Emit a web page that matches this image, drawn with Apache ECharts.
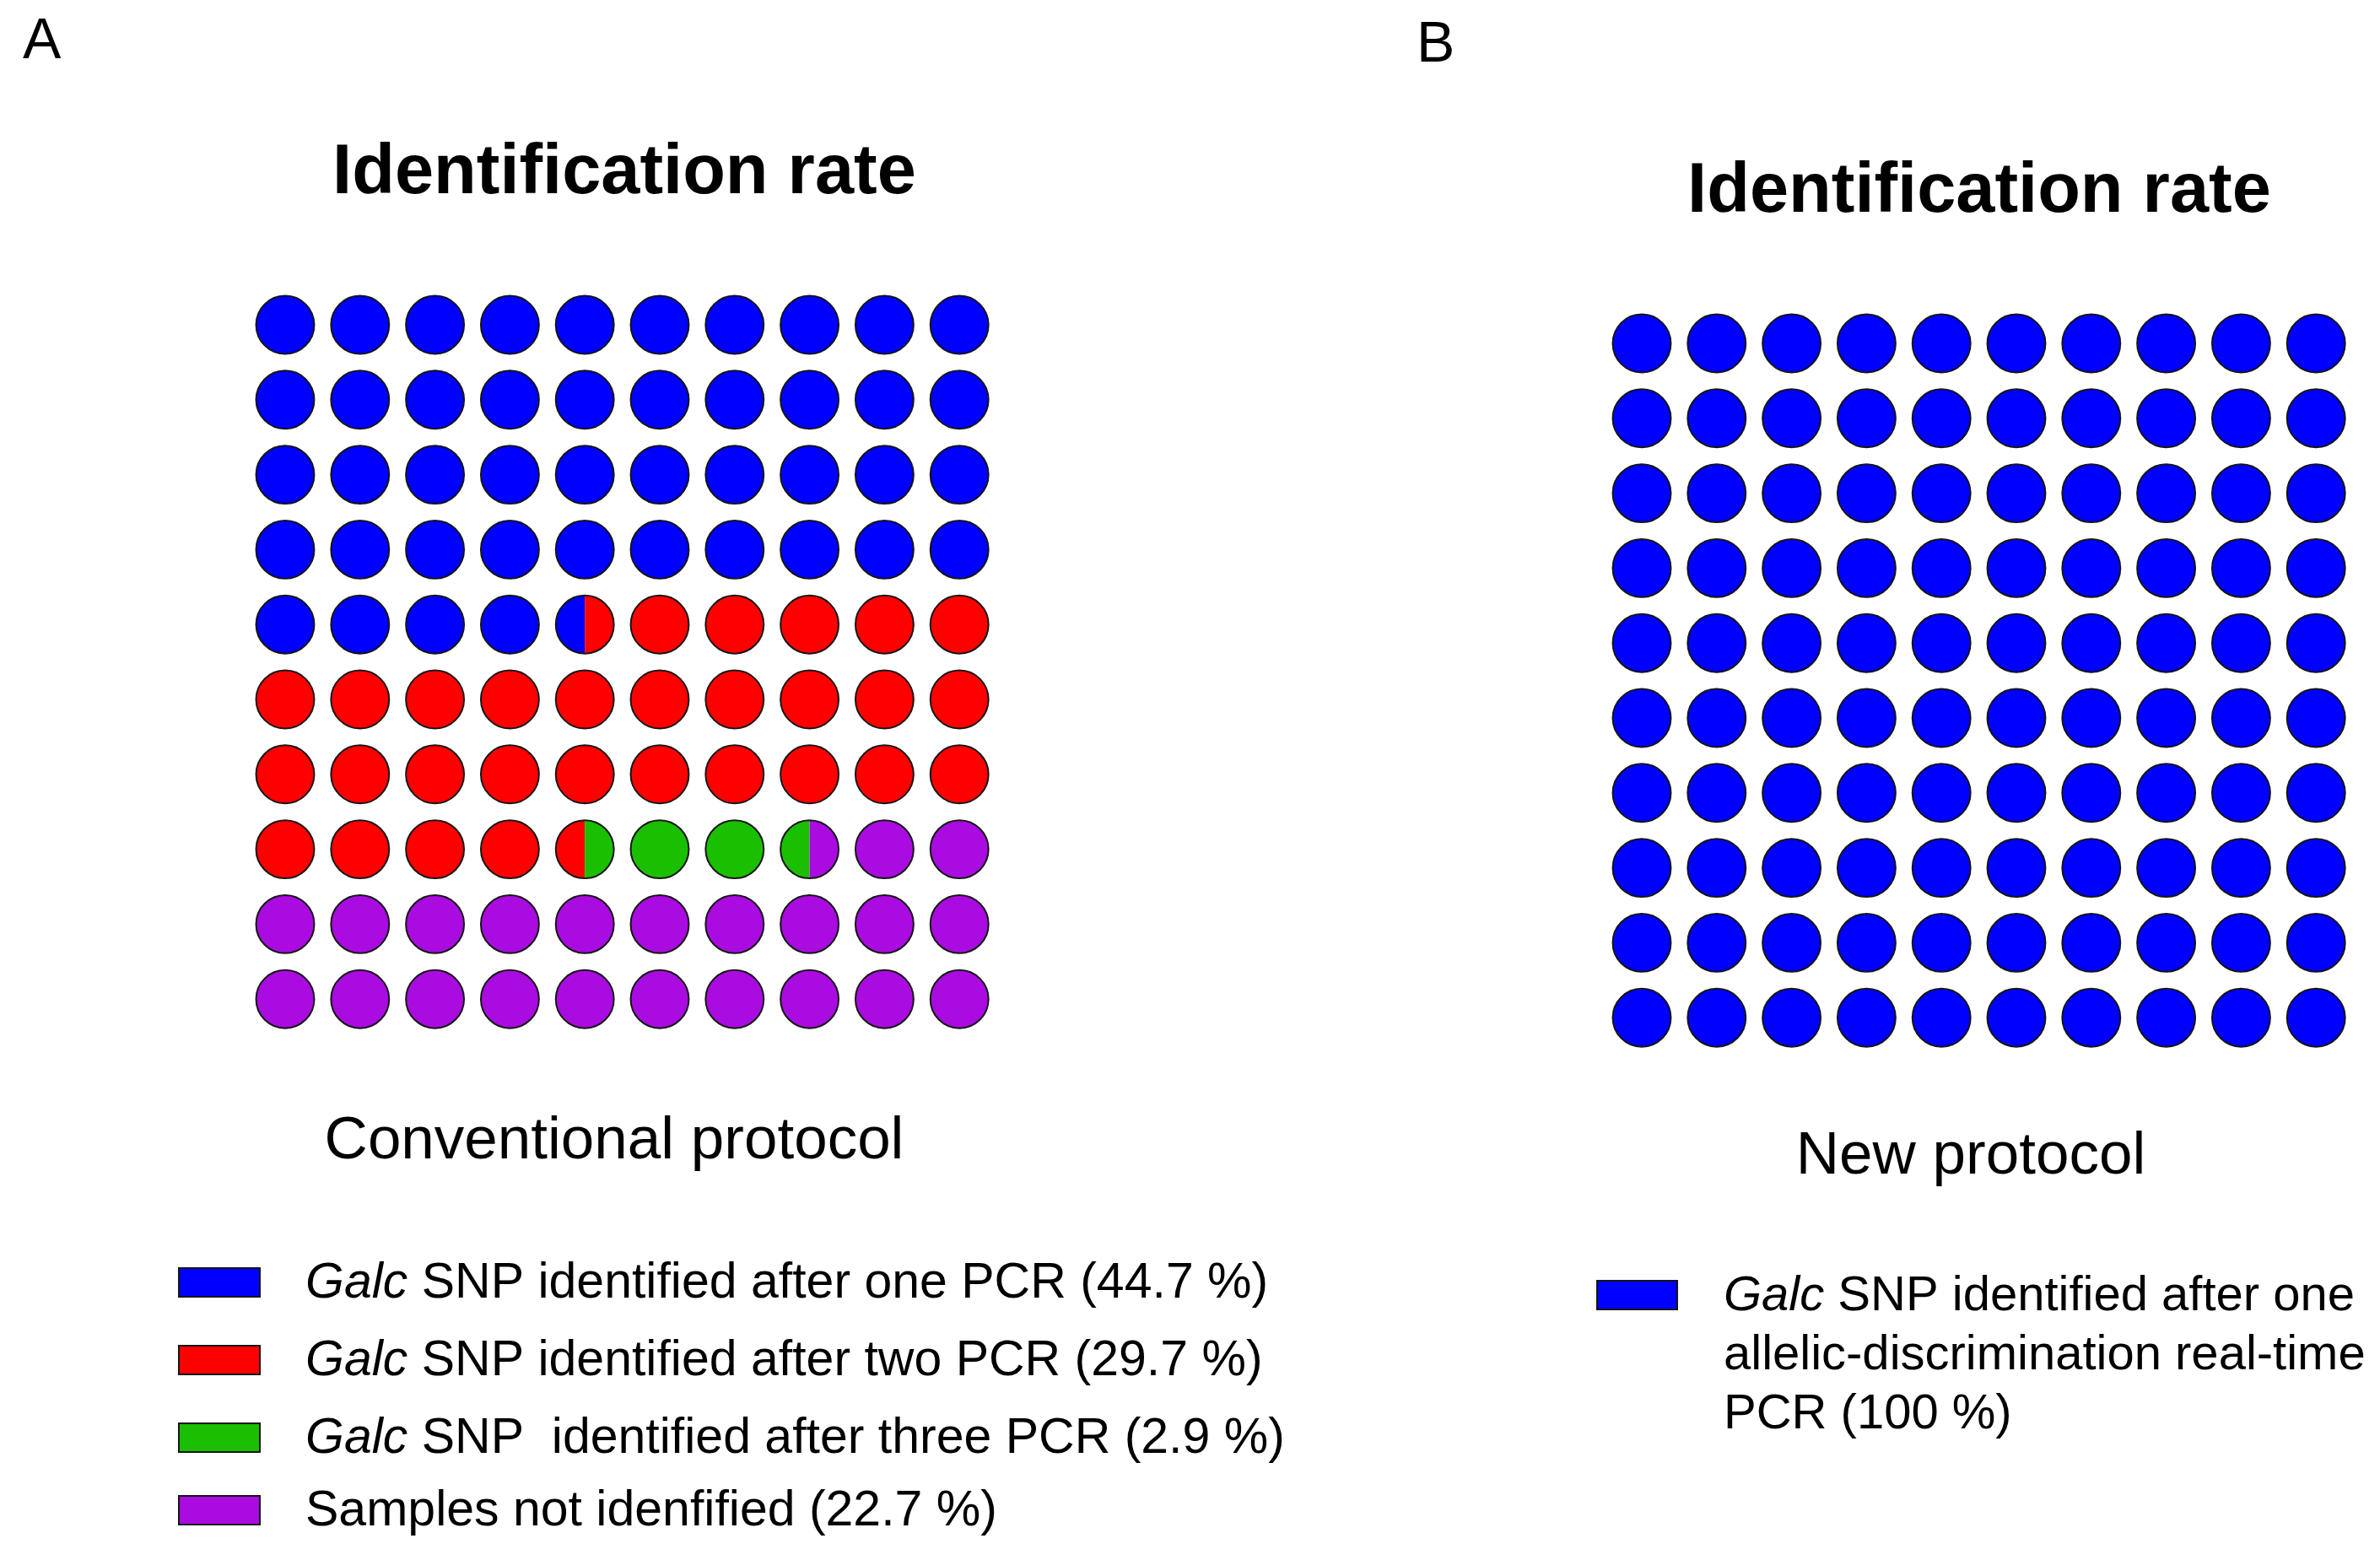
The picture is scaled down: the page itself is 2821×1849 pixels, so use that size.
<!DOCTYPE html>
<html>
<head>
<meta charset="utf-8">
<script src="https://cdn.jsdelivr.net/npm/echarts@6/dist/echarts.min.js"></script>
<style>
html,body{margin:0;padding:0;background:#ffffff;}
#chart{width:2821px;height:1849px;}
</style>
</head>
<body>
<div id="chart"></div>
<script>
// ---------- data ----------
// Panel A: number of half-circles per outcome (100 circles = 200 halves)
const categoriesA = ['after one PCR', 'after two PCR', 'after three PCR', 'not identified'];
const colorsA = ['#0000FF', '#FF0000', '#1ABF00', '#A90BE0'];
const halvesA = [89, 60, 6, 45];
// Panel B: all circles identified
const categoriesB = ['after one allelic-discrimination real-time PCR'];
const colorsB = ['#0000FF'];
const halvesB = [200];

const panelLetters = ['A', 'B'];
const panelTitles = ['Identification rate', 'Identification rate'];
const panelSubtitles = ['Conventional protocol', 'New protocol'];
const legendTextsA = [
  '{i|Galc} SNP identified after one PCR (44.7 %)',
  '{i|Galc} SNP identified after two PCR (29.7 %)',
  '{i|Galc} SNP  identified after three PCR (2.9 %)',
  'Samples not idenfified (22.7 %)'
];
const legendLinesB = [
  '{i|Galc} SNP identified after one',
  'allelic-discrimination real-time',
  'PCR (100 %)'
];

// ---------- build waffle cells (row-major, 10 x 10) ----------
function buildCells(halves) {
  const seq = [];
  halves.forEach((n, ci) => { for (let k = 0; k < n; k++) seq.push(ci); });
  const cells = [];
  for (let c = 0; c < 100; c++) {
    cells.push([c % 10 + 1, Math.floor(c / 10) + 1, seq[2 * c], seq[2 * c + 1]]);
  }
  return cells;
}
const cellsA = buildCells(halvesA);
const cellsB = buildCells(halvesB);

const FONT = '"Liberation Sans", Arial, Helvetica, sans-serif';
const STROKE = '#151515';

function makeRender(colors) {
  return function (params, api) {
    const p = api.coord([api.value(0), api.value(1)]);
    const s = api.size([1, 1]);
    const r = Math.min(s[0], s[1]) * 0.388;
    const l = api.value(2), rt = api.value(3);
    if (l === rt) {
      return {
        type: 'circle',
        shape: { cx: p[0], cy: p[1], r: r },
        style: { fill: colors[l], stroke: STROKE, lineWidth: 2 }
      };
    }
    return {
      type: 'group',
      children: [
        { type: 'sector', shape: { cx: p[0], cy: p[1], r0: 0, r: r, startAngle: Math.PI / 2, endAngle: Math.PI * 1.5, clockwise: true },
          style: { fill: colors[l] } },
        { type: 'sector', shape: { cx: p[0], cy: p[1], r0: 0, r: r, startAngle: -Math.PI / 2, endAngle: Math.PI / 2, clockwise: true },
          style: { fill: colors[rt] } },
        { type: 'circle', shape: { cx: p[0], cy: p[1], r: r },
          style: { fill: 'none', stroke: STROKE, lineWidth: 2 } }
      ]
    };
  };
}

// ---------- text / legend graphics ----------
const graphics = [];
function txt(text, x, y, size, weight, align) {
  graphics.push({
    type: 'text', x: x, y: y, silent: true,
    style: {
      text: text, fontFamily: FONT, fontSize: size, fontWeight: weight || 'normal',
      fill: '#000', align: align || 'center', verticalAlign: 'middle',
      rich: { i: { fontStyle: 'italic', fontFamily: FONT, fontSize: size, fill: '#000' } }
    }
  });
}
txt(panelLetters[0], 27, 50, 68, 'normal', 'left');
txt(panelLetters[1], 1679, 54, 68, 'normal', 'left');
txt(panelTitles[0], 740, 206, 83, 'bold');
txt(panelTitles[1], 2346, 228, 83, 'bold');
txt(panelSubtitles[0], 728, 1353, 71);
txt(panelSubtitles[1], 2336, 1371, 71);

const legendRowsA = [1521, 1613, 1705, 1791];
legendTextsA.forEach((t, i) => {
  graphics.push({
    type: 'rect', silent: true,
    shape: { x: 212, y: legendRowsA[i] - 18, width: 96, height: 34 },
    style: { fill: colorsA[i], stroke: STROKE, lineWidth: 2 }
  });
  txt(t, 362, legendRowsA[i] + 1, 59, 'normal', 'left');
});
graphics.push({
  type: 'rect', silent: true,
  shape: { x: 1893, y: 1518, width: 95, height: 34 },
  style: { fill: colorsB[0], stroke: STROKE, lineWidth: 2 }
});
const legendRowsB = [1537, 1607, 1677];
legendLinesB.forEach((t, i) => txt(t, 2043, legendRowsB[i], 58, 'normal', 'left'));

// ---------- chart ----------
const chart = echarts.init(document.getElementById('chart'), null, { renderer: 'canvas' });
chart.setOption({
  backgroundColor: '#ffffff',
  animation: false,
  grid: [
    { left: 293.6, top: 340.6, width: 888, height: 888 },
    { left: 1901.6, top: 362.6, width: 888, height: 888 }
  ],
  xAxis: [
    { type: 'value', gridIndex: 0, min: 0.5, max: 10.5, show: false },
    { type: 'value', gridIndex: 1, min: 0.5, max: 10.5, show: false }
  ],
  yAxis: [
    { type: 'value', gridIndex: 0, min: 0.5, max: 10.5, inverse: true, show: false },
    { type: 'value', gridIndex: 1, min: 0.5, max: 10.5, inverse: true, show: false }
  ],
  series: [
    { type: 'custom', name: 'Conventional protocol', xAxisIndex: 0, yAxisIndex: 0,
      renderItem: makeRender(colorsA), data: cellsA, silent: true },
    { type: 'custom', name: 'New protocol', xAxisIndex: 1, yAxisIndex: 1,
      renderItem: makeRender(colorsB), data: cellsB, silent: true }
  ],
  graphic: graphics
});
</script>
</body>
</html>
